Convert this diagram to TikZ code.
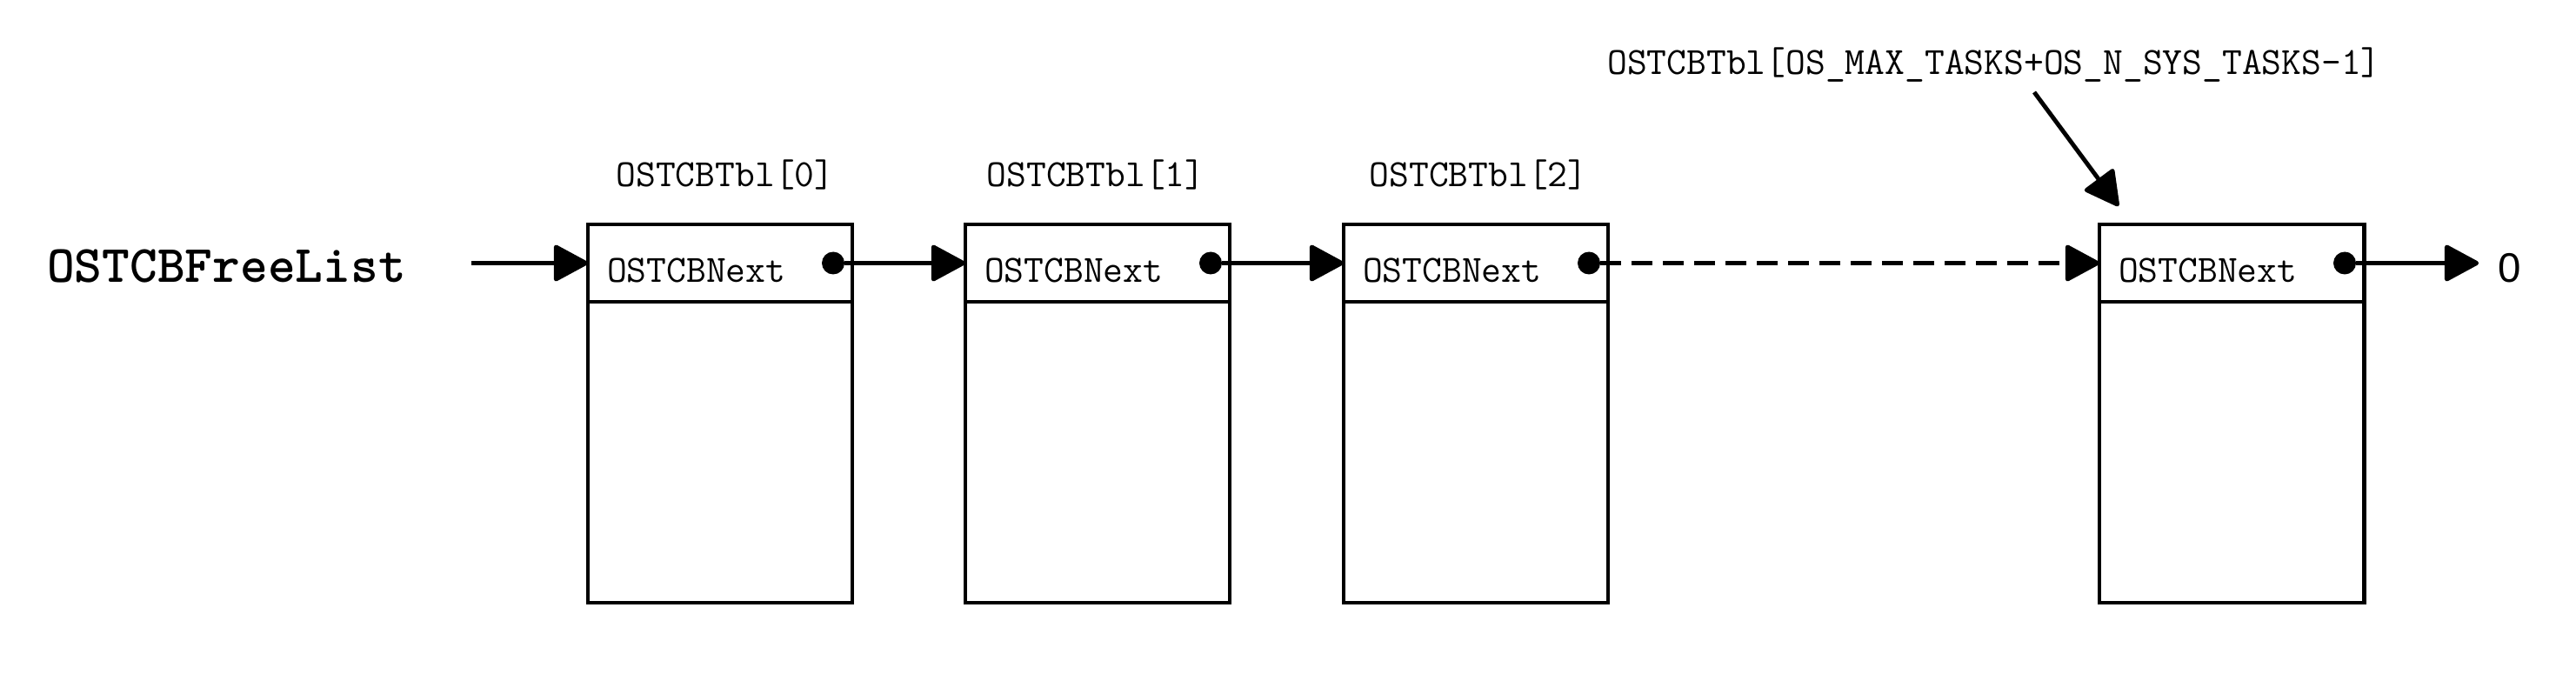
\documentclass[tikz,border=0pt]{standalone}
\usepackage{fontspec}
\setsansfont{Liberation Sans}
\usetikzlibrary{arrows.meta, positioning}

\begin{document}
\begin{tikzpicture}[
		ptr/.style={-{Triangle[length=0.42cm, width=0.44cm, round]}, line width=1.4pt},
		tcb/.style={rectangle, draw, line width=1.4pt, outer sep=0pt, minimum width=3.04cm, minimum height=0.89cm, text width=2.6cm, inner xsep=0.22cm, inner ysep=0pt, align=left, text height=0.44cm, text depth=0pt, font={\fontsize{12.6}{15}\selectfont\ttfamily}},
		tcbbody/.style={rectangle, draw, line width=1.4pt, outer sep=0pt, minimum width=3.04cm, minimum height=3.46cm},
		nextdot/.style={circle, fill, inner sep=0pt, outer sep=0pt, minimum size=0.26cm},
		tbl/.style={anchor=base, inner sep=0pt, font={\fontsize{12.6}{15}\selectfont\ttfamily}}
	]
  \useasboundingbox (0cm, 0cm) rectangle (29.62cm, 7.82cm);
  \node (freelist) [anchor=base, inner sep=0pt, font={\fontsize{17.2}{20}\selectfont\ttfamily\bfseries}] at (2.605cm, 4.575cm) {OSTCBFreeList};
  \coordinate (head) at (5.42cm, 4.795cm);
  \node (hd0) [tcb] at (8.28cm, 4.795cm) {OSTCBNext};
  \node (hd1) [tcb] at (12.62cm, 4.795cm) {OSTCBNext};
  \node (hd2) [tcb] at (16.97cm, 4.795cm) {OSTCBNext};
  \node (hd3) [tcb] at (25.66cm, 4.795cm) {OSTCBNext};
  \node (bd0) [tcbbody, below=0pt of hd0] {};
  \node (bd1) [tcbbody, below=0pt of hd1] {};
  \node (bd2) [tcbbody, below=0pt of hd2] {};
  \node (bd3) [tcbbody, below=0pt of hd3] {};
  \node (dt0) [nextdot, left=0.09cm of hd0.east] {};
  \node (dt1) [nextdot, left=0.09cm of hd1.east] {};
  \node (dt2) [nextdot, left=0.09cm of hd2.east] {};
  \node (dt3) [nextdot, left=0.09cm of hd3.east] {};
  \node (tbl0) [tbl] at (8.34cm, 5.67cm) {OSTCBTbl[0]};
  \node (tbl1) [tbl] at (12.6cm, 5.67cm) {OSTCBTbl[1]};
  \node (tbl2) [tbl] at (17.0cm, 5.67cm) {OSTCBTbl[2]};
  \node (tbl3) [tbl] at (22.93cm, 6.96cm) {OSTCBTbl[OS\_MAX\_TASKS+OS\_N\_SYS\_TASKS-1]};
  \node (zero) [inner xsep=0.215cm, font={\fontsize{13.5}{16}\selectfont\sffamily}] at (28.855cm, 4.74cm) {0};
  \coordinate (ptrstart) at (23.39cm, 6.76cm);
  \coordinate (ptrtip) at (24.36cm, 5.45cm);
  \draw [ptr] (head) -- (hd0);
  \draw [ptr] (dt0) -- (hd1);
  \draw [ptr] (dt1) -- (hd2);
  \draw [ptr, dash pattern=on 0.24cm off 0.12cm] (dt2) -- (hd3);
  \draw [ptr] (dt3) -- (dt3 -| zero.west);
  \draw [ptr] (ptrstart) -- (ptrtip);
\end{tikzpicture}
\end{document}
